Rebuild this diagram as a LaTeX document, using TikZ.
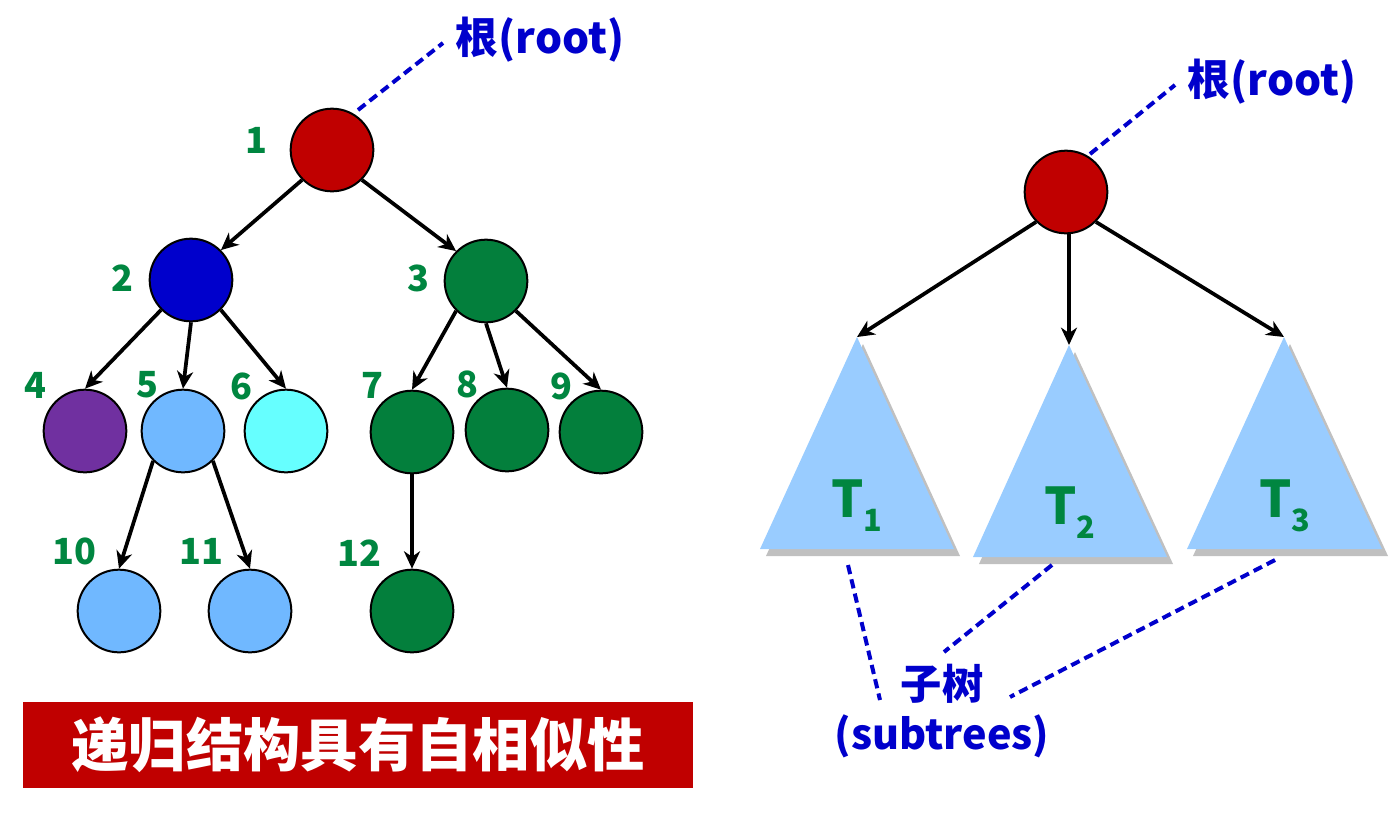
\documentclass[tikz,border=0pt]{standalone}
\usepackage{fontspec}
\setmainfont{Noto Sans CJK SC}
\usetikzlibrary{arrows.meta}

\definecolor{rootred}{RGB}{192,0,0}
\definecolor{deepblue}{RGB}{0,0,204}
\definecolor{treegreen}{RGB}{3,127,60}
\definecolor{numgreen}{RGB}{0,134,64}
\definecolor{leafpurple}{RGB}{112,48,160}
\definecolor{leafblue}{RGB}{112,184,255}
\definecolor{leafcyan}{RGB}{102,255,255}
\definecolor{subfill}{RGB}{153,204,255}
\definecolor{subshadow}{RGB}{192,192,192}

\begin{document}
\begin{tikzpicture}[x=0.75pt,y=0.75pt,yscale=-1,xscale=1,
  vtx/.style={circle,draw=black,line width=1.5pt,minimum size=62pt,inner sep=0pt},
  num/.style={text=numgreen,font=\bfseries\fontsize{27}{27}\selectfont,inner sep=0pt},
  edge/.style={line width=2.8pt,-{Stealth[length=13pt,width=12pt,inset=4pt]}},
  bluedash/.style={draw=deepblue,line width=3pt,dash pattern=on 7pt off 4pt},
  bluetext/.style={text=deepblue,font=\bfseries\fontsize{32}{38}\selectfont,inner sep=0pt,align=center},
  tlabel/.style={text=numgreen,font=\bfseries\fontsize{38}{38}\selectfont,inner sep=0pt}]
\path[use as bounding box] (0,0) rectangle (1389,815);

%Shape: Circle [left tree]
\node[vtx,fill=rootred]    (n1)  at (332,150) {};
\node[vtx,fill=deepblue]   (n2)  at (191,280) {};
\node[vtx,fill=treegreen]  (n3)  at (486,281) {};
\node[vtx,fill=leafpurple] (n4)  at (85,431) {};
\node[vtx,fill=leafblue]   (n5)  at (183,431) {};
\node[vtx,fill=leafcyan]   (n6)  at (286,431) {};
\node[vtx,fill=treegreen]  (n7)  at (412,432) {};
\node[vtx,fill=treegreen]  (n8)  at (507,430) {};
\node[vtx,fill=treegreen]  (n9)  at (601,432) {};
\node[vtx,fill=leafblue]   (n10) at (119,611) {};
\node[vtx,fill=leafblue]   (n11) at (250,611) {};
\node[vtx,fill=treegreen]  (n12) at (412,611) {};

% Text Node
\node[num] (l1)  at (256,140) {1};
\node[num] (l2)  at (122,278) {2};
\node[num] (l3)  at (418,278) {3};
\node[num] (l4)  at (35,385) {4};
\node[num] (l5)  at (147,385) {5};
\node[num] (l6)  at (241,386) {6};
\node[num] (l7)  at (372,385) {7};
\node[num] (l8)  at (467,384) {8};
\node[num] (l9)  at (561,386) {9};
\node[num] (l10) at (74,551) {10};
\node[num] (l11) at (201,551) {11};
\node[num] (l12) at (359,553) {12};

%Straight Lines
\draw[edge] (n1.south west) -- (n2.north east);
\draw[edge] (n1.south east) -- (n3.north west);
\draw[edge] (n2.south west) -- (n4.north);
\draw[edge] (n2.south) -- (n5.north);
\draw[edge] (n2.south east) -- (n6.north);
\draw[edge] (n3.south west) -- (n7.north);
\draw[edge] (n3.south) -- (n8.north);
\draw[edge] (n3.south east) -- (n9.north);
\draw[edge] (n5.south west) -- (n10.north);
\draw[edge] (n5.south east) -- (n11.north);
\draw[edge] (n7.south) -- (n12.north);

% Text Node
\node[bluetext] (rootA) at (540,40) {根(root)};
\coordinate (rootAstart) at (358,110);
\coordinate (rootAend) at (443,43);
\draw[bluedash] (rootAstart) -- (rootAend);

%Shape: Rectangle
\node[fill=rootred,minimum width=502pt,minimum height=64.5pt,inner sep=0pt,
  text=white,font=\bfseries\fontsize{43}{43}\selectfont] (motto) at (358,745) {递归结构具有自相似性};

%Shape: Circle [right tree]
\node[vtx,fill=rootred] (r) at (1066,192) {};
\node[bluetext] (rootB) at (1272,82) {根(root)};
\coordinate (rootBstart) at (1090,154);
\coordinate (rootBend) at (1175,85);
\draw[bluedash] (rootBstart) -- (rootBend);

%Shape: Triangle
\fill[subshadow] (863,344) -- (960,556) -- (766,556) -- cycle;
\fill[subfill] (857,337) -- (954,549) -- (760,549) -- cycle;
\coordinate (t1a) at (857,337);
\fill[subshadow] (1075,352) -- (1173,564) -- (979,564) -- cycle;
\fill[subfill] (1069,345) -- (1167,557) -- (973,557) -- cycle;
\coordinate (t2a) at (1069,345);
\fill[subshadow] (1290,344) -- (1388,556) -- (1193,556) -- cycle;
\fill[subfill] (1284,337) -- (1382,549) -- (1187,549) -- cycle;
\coordinate (t3a) at (1284,337);

% Text Node
\node[tlabel] (T1) at (857,506) {T\raisebox{-10.5pt}{\fontsize{23}{23}\selectfont 1}};
\node[tlabel] (T2) at (1070,513) {T\raisebox{-10.5pt}{\fontsize{23}{23}\selectfont 2}};
\node[tlabel] (T3) at (1285,506) {T\raisebox{-10.5pt}{\fontsize{23}{23}\selectfont 3}};

%Straight Lines
\draw[edge] (r.south west) -- (t1a);
\draw[edge] (r.south -| t2a) -- (t2a);
\draw[edge] (r.south east) -- (t3a);

% Text Node
\node[bluetext,font=\bfseries\fontsize{31}{38}\selectfont] (sub) at (942,711) {子树\\(subtrees)};
\coordinate (s1a) at (848,565);
\coordinate (s1b) at (880,700);
\coordinate (s2a) at (1052,565);
\coordinate (s2b) at (944,652);
\coordinate (s3a) at (1275,560);
\coordinate (s3b) at (1010,697);
\draw[bluedash] (s1a) -- (s1b);
\draw[bluedash] (s2a) -- (s2b);
\draw[bluedash] (s3a) -- (s3b);

\end{tikzpicture}
\end{document}
